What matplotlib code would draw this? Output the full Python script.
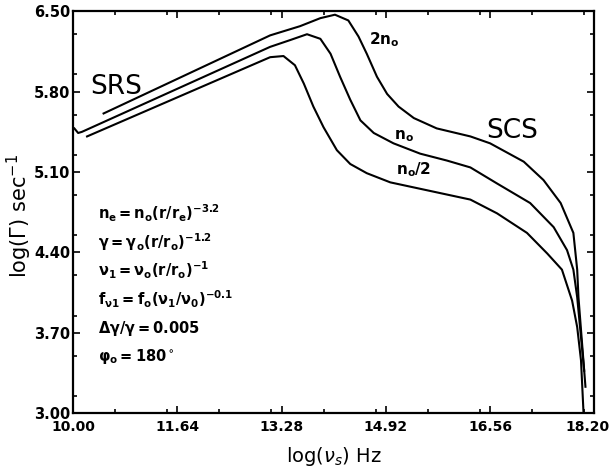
import matplotlib.pyplot as plt
import matplotlib.transforms as mtransforms
from matplotlib.ticker import MultipleLocator, FixedLocator

plt.rcParams['mathtext.fontset'] = 'dejavusans'

# curve for 2*n0
x_2n0 = [10.48, 13.10, 13.57, 13.89, 14.12, 14.33, 14.49, 14.62, 14.78, 14.94, 15.12,
         15.36, 15.72, 16.25, 16.56, 17.09, 17.40, 17.67, 17.87, 17.93, 17.95, 18.06]
y_2n0 = [5.61, 6.29, 6.37, 6.44, 6.47, 6.42, 6.28, 6.13, 5.93, 5.78, 5.67,
         5.57, 5.48, 5.41, 5.35, 5.19, 5.03, 4.83, 4.57, 4.25, 4.01, 3.23]

# curve for n0
x_n0 = [10.02, 10.08, 10.14, 13.10, 13.42, 13.68, 13.89, 14.05, 14.20, 14.36, 14.52, 14.73,
        15.04, 15.46, 15.88, 16.25, 16.67, 17.19, 17.56, 17.77, 17.87, 17.93, 18.04]
y_n0 = [5.48, 5.44, 5.45, 6.19, 6.25, 6.30, 6.26, 6.13, 5.93, 5.73, 5.55, 5.44,
        5.35, 5.26, 5.20, 5.14, 5.00, 4.83, 4.62, 4.42, 4.25, 4.01, 3.37]

# curve for n0/2
x_half = [10.22, 13.10, 13.31, 13.49, 13.63, 13.78, 13.94, 14.15, 14.36, 14.62, 14.99,
          15.41, 15.83, 16.25, 16.67, 17.14, 17.46, 17.69, 17.85, 17.93, 17.99, 18.03]
y_half = [5.41, 6.10, 6.11, 6.03, 5.87, 5.67, 5.49, 5.29, 5.17, 5.09, 5.01,
          4.96, 4.91, 4.86, 4.74, 4.57, 4.39, 4.25, 3.98, 3.75, 3.46, 3.00]

xticks = [10.00, 11.64, 13.28, 14.92, 16.56, 18.20]
yticks = [3.00, 3.70, 4.40, 5.10, 5.80, 6.50]

params = [r'$\mathbf{n_e{=}n_o(r/r_e)^{-3.2}}$',
          r'$\mathbf{\gamma{=}\gamma_o(r/r_o)^{-1.2}}$',
          r'$\mathbf{\nu_1{=}\nu_o(r/r_o)^{-1}}$',
          r'$\mathbf{f_{\nu 1}{=}f_o(\nu_1/\nu_0)^{-0.1}}$',
          r'$\mathbf{\Delta\gamma/\gamma{=}0.005}$',
          r'$\mathbf{\varphi_o{=}180^\circ}$']

fig = plt.figure(figsize=(6.14, 4.69), dpi=100)
ax = fig.add_axes([0.119, 0.119, 0.849, 0.857])

for xs, ys in [(x_2n0, y_2n0), (x_n0, y_n0), (x_half, y_half)]:
    ax.plot(xs, ys, color='black', lw=1.5)

ax.set_xlim(10.0, 18.2)
ax.set_ylim(3.0, 6.5)
ax.xaxis.set_major_locator(FixedLocator(xticks))
ax.yaxis.set_major_locator(FixedLocator(yticks))
ax.xaxis.set_minor_locator(MultipleLocator(0.82))
ax.yaxis.set_minor_locator(MultipleLocator(0.35))
ax.set_xticklabels(['%.2f' % v for v in xticks], fontsize=10, fontweight='bold')
ax.set_yticklabels(['%.2f' % v for v in yticks], fontsize=10.5, fontweight='bold')
ax.tick_params(which='both', direction='in', top=True, right=True, width=1.2)
ax.tick_params(which='major', length=5)
ax.tick_params(which='minor', length=3)
ax.tick_params(axis='x', pad=5)
ax.tick_params(axis='y', pad=2)
for s in ax.spines.values():
    s.set_linewidth(1.6)

# the last x label sits a little left so it stays inside the figure
last = ax.get_xticklabels()[-1]
shift = mtransforms.ScaledTranslation(-7 / 100, 0, fig.dpi_scale_trans)
last.set_transform(last.get_transform() + shift)

ax.set_xlabel(r'log($\nu_s$) Hz', fontsize=14)
ax.set_ylabel(r'log($\Gamma$) sec$^{-1}$', fontsize=15)
ax.xaxis.set_label_coords(0.5, -0.08)
ax.yaxis.set_label_coords(-0.075, 0.49)

ax.text(10.68, 5.84, 'SRS', fontsize=19, ha='center', va='center')
ax.text(16.91, 5.46, 'SCS', fontsize=19, ha='center', va='center')
ax.text(14.90, 6.25, r'$\mathbf{2n_o}$', fontsize=11, ha='center', va='center')
ax.text(15.21, 5.41, r'$\mathbf{n_o}$', fontsize=11, ha='center', va='center')
ax.text(15.35, 5.12, r'$\mathbf{n_o/2}$', fontsize=11, ha='center', va='center')

for i, s in enumerate(params):
    ax.text(0.048, 0.4975 - i * 0.0714, s, transform=ax.transAxes,
            fontsize=10.5, ha='left', va='center')

fig.savefig('out.png', dpi=100)
